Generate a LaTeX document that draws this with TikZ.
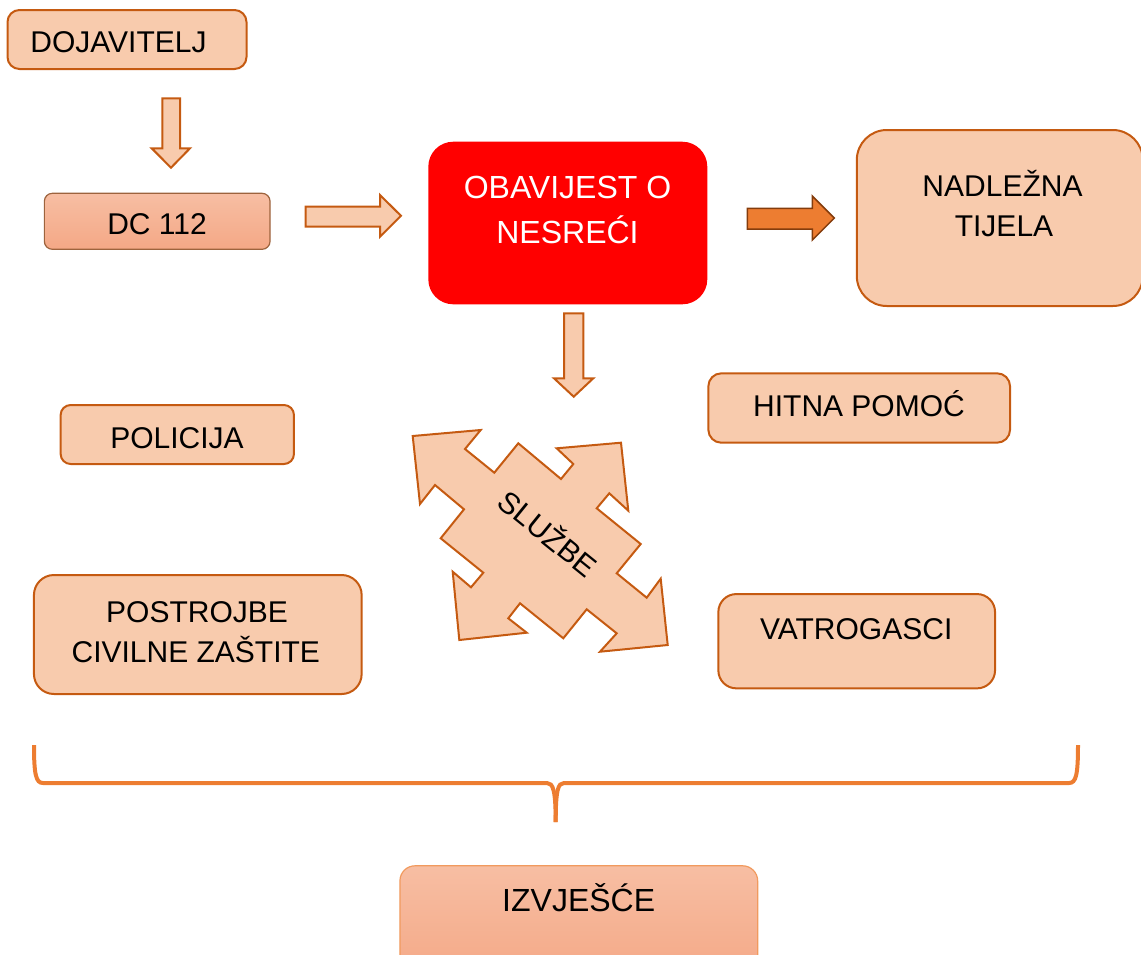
\documentclass[tikz,border=0pt]{standalone}
\usepackage{fontspec}
\setmainfont{Liberation Sans}
\definecolor{peach}{HTML}{F8CBAD}
\definecolor{edge}{HTML}{C55A11}
\definecolor{orng}{HTML}{ED7D31}
\definecolor{darkedge}{HTML}{843C0C}
\definecolor{gtop}{HTML}{F7BEA3}
\definecolor{gbot}{HTML}{F4A886}
\definecolor{izvedge}{HTML}{F19A5E}
\begin{document}
\begin{tikzpicture}[x=1pt,y=-1pt,
  box/.style={draw=edge, fill=peach, line width=2pt, rounded corners=#1, inner sep=0pt},
  box/.default=10pt,
  gbox/.style={draw=#1, line width=1.2pt, top color=gtop, bottom color=gbot, inner sep=0pt},
  txt/.style={anchor=base, inner sep=0pt, font=\fontsize{30}{36}\selectfont},
  bigtxt/.style={txt, font=\fontsize{32}{38}\selectfont},
  wtxt/.style={bigtxt, text=white},
  barrow/.style={draw=edge, fill=peach, line width=2pt, line join=miter},
  oarrow/.style={draw=darkedge, fill=orng, line width=1.5pt, line join=miter},
  brace/.style={draw=orng, line width=4pt}
]
\useasboundingbox (0,0) rectangle (1141,954);
\clip (0,0) rectangle (1141,954);

% boxes
\node[box=12pt, minimum width=239pt, minimum height=59pt] (doj) at (127,39.5) {};
\node[gbox=darkedge!80, rounded corners=8pt, minimum width=225.7pt, minimum height=56pt] (dc) at (157.2,221.3) {};
\node[fill=red, draw=none, rounded corners=25pt, minimum width=279pt, minimum height=162.6pt] (obav) at (567.8,223) {};
\node[box=30pt, minimum width=286pt, minimum height=176pt] (nad) at (999.8,218) {};
\node[box=13pt, minimum width=301.7pt, minimum height=69.4pt] (hit) at (859.2,408) {};
\node[box=10pt, minimum width=233.3pt, minimum height=59pt] (pol) at (177.3,434.5) {};
\node[box=20pt, minimum width=327.7pt, minimum height=119pt] (post) at (197.8,634.5) {};
\node[box=18pt, minimum width=276.7pt, minimum height=94.3pt] (vat) at (856.7,641.2) {};
\node[gbox=izvedge, rounded corners=15pt, minimum width=357.7pt, minimum height=114pt] (izv) at (578.8,922.8) {};

% texts
\node[txt] (tdoj) at (118.5,52.7) {DOJAVITELJ};
\node[txt] (tdc) at (157,234.6) {DC 112};
\node[wtxt] (tob1) at (567.5,198.2) {OBAVIJEST O};
\node[wtxt] (tob2) at (567.5,243.3) {NESREĆI};
\node[txt] (tnad1) at (1002.5,196) {NADLEŽNA};
\node[txt] (tnad2) at (1004,236.7) {TIJELA};
\node[txt] (thit) at (859,416.7) {HITNA POMOĆ};
\node[txt] (tpol) at (177,448.3) {POLICIJA};
\node[txt] (tpost1) at (197,622.7) {POSTROJBE};
\node[txt] (tpost2) at (195.8,662.3) {CIVILNE ZAŠTITE};
\node[txt] (tvat) at (856.2,639.3) {VATROGASCI};
\node[bigtxt] (tizv) at (578.7,911.7) {IZVJEŠĆE};

% block arrows
\draw[barrow] (162.3,98.3) -- (180,98.3) -- (180,148.3) -- (190,148.3) -- (171,167.7) -- (151.7,148.3) -- (162.3,148.3) -- cycle;
\draw[barrow] (305.7,206.7) -- (380,206.7) -- (380,195) -- (401,215.8) -- (380,236.7) -- (380,226.7) -- (305.7,226.7) -- cycle;
\draw[oarrow] (747.3,208.3) -- (812.3,208.3) -- (812.3,196) -- (834.3,218) -- (812.3,240) -- (812.3,229) -- (747.3,229) -- cycle;
\draw[barrow] (564,313.3) -- (583.3,313.3) -- (583.3,378.3) -- (593.3,378.3) -- (573.7,396.7) -- (554,378.3) -- (564,378.3) -- cycle;

% quad arrow SLUZBE
\draw[barrow] (412.7,436) -- (480.7,430) -- (465,449) -- (494.3,472.7) -- (518.3,443.3) -- (561,479) -- (573.3,464) -- (556.7,448.3)
  -- (621,442.7) -- (628.3,510.7) -- (609.3,493.3) -- (596.7,508.3) -- (640.7,544) -- (616.7,573.3) -- (646.7,597.7) -- (660.7,578.7)
  -- (667.7,645) -- (600,651.7) -- (616.7,633.3) -- (586.7,609.3) -- (563.3,638.3) -- (520,603.3) -- (508.3,618.3) -- (526.7,632.7)
  -- (459.3,640) -- (452.7,571.7) -- (471,587.3) -- (483.3,572.7) -- (440.7,538.3) -- (464,509.3) -- (435,485) -- (420,504) -- cycle;
\node[txt, anchor=center, rotate=-39] (tslu) at (549,532) {SLUŽBE};

% brace
\coordinate (bl) at (34,745);
\coordinate (br) at (1078,745);
\coordinate (bm) at (555.7,822);
\draw[brace] (bl) .. controls (34,775) and (36,783) .. (43,783) -- (547,783) .. controls (553,783) and (555.7,790) .. (bm);
\draw[brace] (br) .. controls (1078,775) and (1076,783) .. (1069,783) -- (564,783) .. controls (558,783) and (555.7,790) .. (bm);
\end{tikzpicture}
\end{document}
